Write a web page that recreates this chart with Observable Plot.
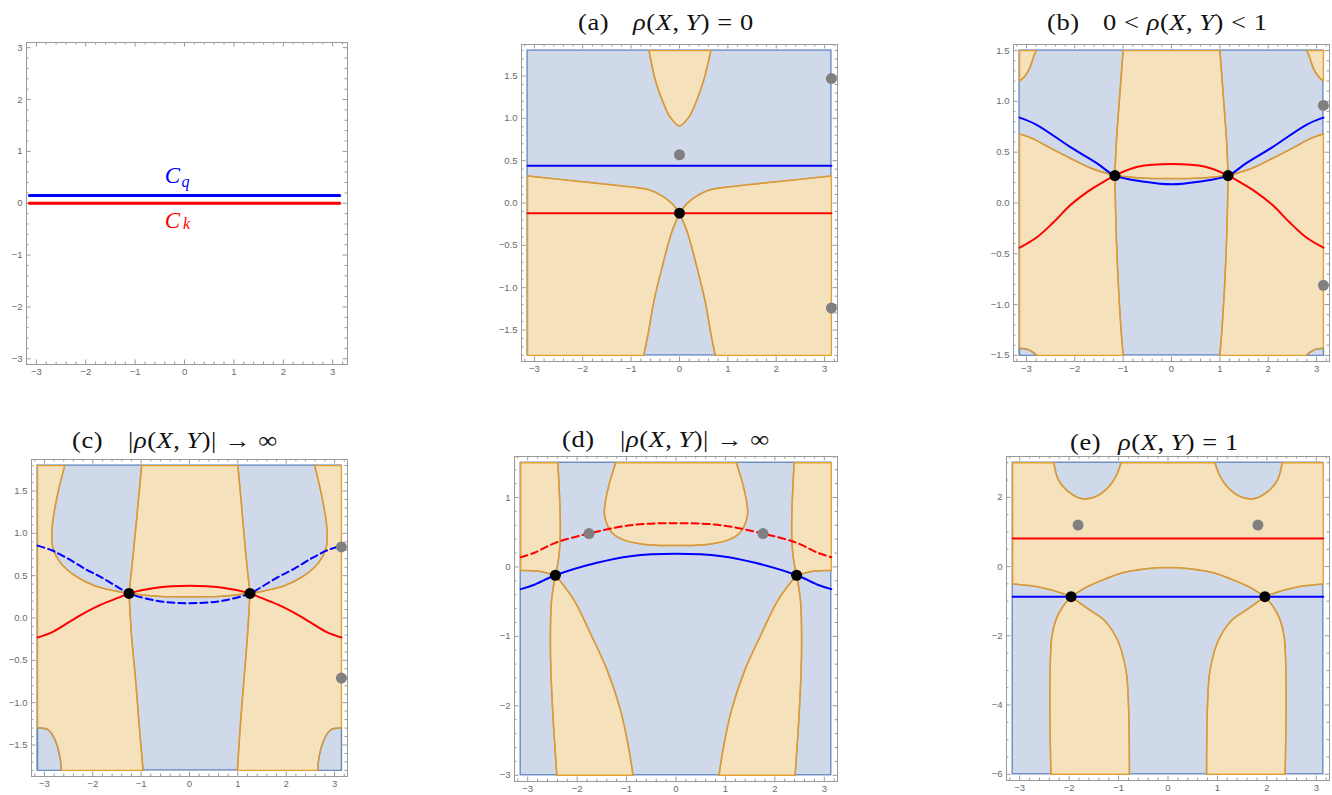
<!DOCTYPE html>
<html><head><meta charset="utf-8">
<script src="https://cdn.jsdelivr.net/npm/d3@7"></script>
<script src="https://cdn.jsdelivr.net/npm/@observablehq/plot@0.6"></script>
<style>
body{margin:0;background:#fff;overflow:hidden;}
#root{position:relative;width:1332px;height:795px;overflow:hidden;}
.t{position:absolute;font-family:"Liberation Serif",serif;font-size:23px;line-height:23px;letter-spacing:0.5px;white-space:nowrap;color:#111;transform:scaleX(1.15);transform-origin:0 0;}
.t i{font-style:italic;}
</style></head>
<body><div id="root">
<div class="t" style="left:578px;top:11px">(a)</div>
<div class="t" style="left:633px;top:11px"><i>ρ</i>(<i>X</i>,&thinsp;<i>Y</i>) = 0</div>
<div class="t" style="left:1047px;top:11px">(b)</div>
<div class="t" style="left:1103px;top:11px">0 &lt; <i>ρ</i>(<i>X</i>,&thinsp;<i>Y</i>) &lt; 1</div>
<div class="t" style="left:72px;top:429px">(c)</div>
<div class="t" style="left:128px;top:429px">|<i>ρ</i>(<i>X</i>,&thinsp;<i>Y</i>)| → ∞</div>
<div class="t" style="left:562px;top:428px">(d)</div>
<div class="t" style="left:620px;top:428px">|<i>ρ</i>(<i>X</i>,&thinsp;<i>Y</i>)| → ∞</div>
<div class="t" style="left:1070px;top:431px">(e)</div>
<div class="t" style="left:1118px;top:431px"><i>ρ</i>(<i>X</i>,&thinsp;<i>Y</i>) = 1</div>
</div>
<script>
const PI = Math.PI;
const rev = a => a.slice().reverse();
const poly = (...segs) => segs.flat();

// ---------- tick values / labels ----------
const xTicks = [-3,-2,-1,0,1,2,3];
const xTickLabels = ["−3","−2","−1","0","1","2","3"];
const y0Ticks = [-3,-2,-1,0,1,2,3];
const y0TickLabels = ["−3","−2","−1","0","1","2","3"];
const yHalfTicks = [-1.5,-1,-0.5,0,0.5,1,1.5];
const yHalfTickLabels = ["−1.5","−1.0","−0.5","0.0","0.5","1.0","1.5"];
const ydTicks = [-3,-2,-1,0,1];
const ydTickLabels = ["−3","−2","−1","0","1"];
const yeTicks = [-6,-4,-2,0,2];
const yeTickLabels = ["−6","−4","−2","0","2"];

// ---------- panel 0 ----------
const p0Blue = [[-PI,0.15],[PI,0.15]];
const p0Red = [[-PI,0],[PI,0]];
const p0LabelQ = [{x:0,y:0.53}];
const p0LabelK = [{x:0,y:-0.33}];

// ---------- panel (a) ----------
const aCup = [[-0.63,1.8],[-0.5,1.45],[-0.36,1.22],[-0.2,1.02],[0,0.91],[0.2,1.02],[0.36,1.22],[0.5,1.45],[0.65,1.8]];
const aUL = [[-PI,0.32],[-2,0.25],[-1.0,0.19],[-0.6,0.15],[-0.35,0.08],[-0.15,-0.01],[0,-0.12]];
const aUR = [[0,-0.12],[0.15,-0.01],[0.35,0.08],[0.6,0.15],[1.0,0.19],[2,0.25],[PI,0.32]];
const aLL = [[0,-0.12],[-0.17,-0.36],[-0.36,-0.76],[-0.53,-1.16],[-0.65,-1.55],[-0.74,-1.8]];
const aLR = [[0,-0.12],[0.17,-0.36],[0.36,-0.76],[0.53,-1.16],[0.65,-1.55],[0.74,-1.8]];
const aBlue = [[-PI,0.44],[PI,0.44]];
const aRed = [[-PI,-0.12],[PI,-0.12]];
const aBlack = [[0,-0.12]];
const aGray = [[0,0.57],[PI,1.47],[PI,-1.24]];

// ---------- panel (b) ----------
const bBlue = [[-PI,0.84],[-2.79,0.77],[-2.09,0.55],[-1.54,0.39],[-1.17,0.27],[-0.56,0.21],[0,0.185],[0.56,0.21],[1.17,0.27],[1.54,0.39],[2.09,0.55],[2.79,0.77],[PI,0.84]];
const bRed = [[-PI,-0.44],[-2.79,-0.34],[-2.44,-0.19],[-2.09,-0.02],[-1.74,0.11],[-1.4,0.21],[-1.17,0.27],[-0.7,0.356],[0,0.383],[0.7,0.356],[1.17,0.27],[1.4,0.21],[1.74,0.11],[2.09,-0.02],[2.44,-0.19],[2.79,-0.34],[PI,-0.44]];
const bGL = [[-PI,0.68],[-2.9,0.64],[-2.5,0.54],[-2.09,0.44],[-1.7,0.35],[-1.4,0.3],[-1.17,0.27]];
const bGM = [[-1.17,0.27],[-0.6,0.245],[0,0.24],[0.6,0.245],[1.17,0.27]];
const bGR = [[1.17,0.27],[1.4,0.3],[1.7,0.35],[2.09,0.44],[2.5,0.54],[2.9,0.64],[PI,0.68]];
const bVLt = [[-1.0,1.5],[-1.08,1.0],[-1.14,0.6],[-1.17,0.27]];
const bVLb = [[-1.17,0.27],[-1.15,-0.2],[-1.11,-0.7],[-1.05,-1.2],[-1.0,-1.5]];
const bVRt = [[1.0,1.5],[1.08,1.0],[1.14,0.6],[1.17,0.27]];
const bVRb = [[1.17,0.27],[1.15,-0.2],[1.11,-0.7],[1.05,-1.2],[1.0,-1.5]];
const bCTL = [[-PI,1.2],[-3.03,1.25],[-2.93,1.33],[-2.86,1.43],[-2.8,1.5]];
const bCTR = [[PI,1.2],[3.03,1.25],[2.93,1.33],[2.86,1.43],[2.8,1.5]];
const bCBL = [[-PI,-1.43],[-2.98,-1.44],[-2.86,-1.47],[-2.79,-1.5]];
const bCBR = [[PI,-1.43],[2.98,-1.44],[2.86,-1.47],[2.79,-1.5]];
const bBlack = [[-1.17,0.27],[1.17,0.27]];
const bGray = [[PI,0.96],[PI,-0.81]];

// ---------- panel (c) ----------
const cVLt = [[-0.99,1.8],[-1.06,1.37],[-1.16,0.78],[-1.25,0.29]];
const cVLb = [[-1.25,0.29],[-1.2,-0.2],[-1.12,-0.7],[-1.05,-1.2],[-0.96,-1.8]];
const cVRt = [[1.0,1.8],[1.07,1.37],[1.16,0.78],[1.25,0.29]];
const cVRb = [[1.25,0.29],[1.2,-0.2],[1.13,-0.7],[1.06,-1.2],[0.99,-1.8]];
const cOL = [[-2.58,1.8],[-2.72,1.48],[-2.82,1.17],[-2.85,0.97],[-2.82,0.82],[-2.68,0.66],[-2.37,0.5],[-1.96,0.38],[-1.54,0.32],[-1.25,0.29]];
const cOR = [[2.59,1.8],[2.72,1.48],[2.82,1.17],[2.85,0.97],[2.82,0.82],[2.68,0.66],[2.37,0.5],[1.96,0.38],[1.54,0.32],[1.25,0.29]];
const cGM = [[-1.25,0.29],[-0.6,0.255],[0,0.25],[0.6,0.255],[1.25,0.29]];
const cCBL = [[-PI,-1.3],[-2.92,-1.32],[-2.78,-1.44],[-2.68,-1.64],[-2.65,-1.8]];
const cCBR = [[PI,-1.3],[2.92,-1.32],[2.78,-1.44],[2.68,-1.64],[2.65,-1.8]];
const cRed = [[-PI,-0.23],[-2.85,-0.17],[-2.51,-0.055],[-2.16,0.063],[-1.82,0.16],[-1.47,0.24],[-1.25,0.29],[-0.65,0.36],[0,0.38],[0.65,0.36],[1.25,0.29],[1.47,0.24],[1.82,0.16],[2.16,0.063],[2.51,-0.055],[2.85,-0.17],[PI,-0.23]];
const cBlue = [[-PI,0.855],[-2.85,0.8],[-2.51,0.7],[-2.16,0.58],[-1.82,0.48],[-1.47,0.36],[-1.25,0.29],[-0.65,0.2],[0,0.175],[0.65,0.2],[1.25,0.29],[1.47,0.36],[1.82,0.48],[2.16,0.58],[2.51,0.7],[2.85,0.8],[PI,0.855]];
const cBlack = [[-1.25,0.29],[1.25,0.29]];
const cGray = [[PI,0.84],[PI,-0.71]];

// ---------- panel (d) ----------
const dVLt = [[-2.39,1.5],[-2.35,0.9],[-2.34,0.5],[-2.37,0.15],[-2.44,-0.12]];
const dVLb = [[-2.44,-0.12],[-2.52,-0.5],[-2.54,-1.2],[-2.5,-2.0],[-2.41,-3.0]];
const dCL = [[-2.44,-0.12],[-2.07,-0.47],[-1.73,-0.96],[-1.39,-1.49],[-1.12,-2.07],[-0.96,-2.6],[-0.87,-3.0]];
const dHL = [[-PI,-0.05],[-2.8,-0.06],[-2.44,-0.12]];
const dVRt = [[2.39,1.5],[2.35,0.9],[2.34,0.5],[2.37,0.15],[2.44,-0.12]];
const dVRb = [[2.44,-0.12],[2.52,-0.5],[2.54,-1.2],[2.5,-2.0],[2.41,-3.0]];
const dCR = [[2.44,-0.12],[2.07,-0.47],[1.73,-0.96],[1.39,-1.49],[1.12,-2.07],[0.96,-2.6],[0.87,-3.0]];
const dHR = [[PI,-0.05],[2.8,-0.06],[2.44,-0.12]];
const dBlob = [[-1.22,1.5],[-1.36,1.17],[-1.43,0.93],[-1.45,0.78],[-1.41,0.64],[-1.29,0.49],[-1.06,0.39],[-0.58,0.32],[0,0.31],[0.58,0.32],[1.06,0.39],[1.29,0.49],[1.41,0.64],[1.45,0.78],[1.43,0.93],[1.36,1.17],[1.22,1.5]];
const dRed = [[-PI,0.14],[-2.88,0.2],[-2.43,0.35],[-1.76,0.48],[-0.92,0.6],[0,0.63],[0.92,0.6],[1.76,0.48],[2.43,0.35],[2.88,0.2],[PI,0.14]];
const dBlue = [[-PI,-0.32],[-2.88,-0.26],[-2.44,-0.12],[-1.6,0.06],[-0.92,0.155],[0,0.19],[0.92,0.155],[1.6,0.06],[2.44,-0.12],[2.88,-0.26],[PI,-0.32]];
const dBlack = [[-2.44,-0.12],[2.44,-0.12]];
const dGray = [[-1.76,0.48],[1.76,0.48]];

// ---------- panel (e) ----------
const eBlobL = [[-2.31,3.0],[-2.22,2.51],[-2.03,2.18],[-1.73,1.96],[-1.42,2.05],[-1.16,2.37],[-1.02,2.71],[-0.95,3.0]];
const eBlobR = [[0.95,3.0],[1.02,2.71],[1.16,2.37],[1.42,2.05],[1.73,1.96],[2.03,2.18],[2.22,2.51],[2.31,3.0]];
const eHL = [[-PI,-0.5],[-2.64,-0.58],[-2.3,-0.7],[-1.96,-0.87]];
const eHM = [[-1.96,-0.87],[-1.63,-0.58],[-1.29,-0.37],[-0.95,-0.19],[-0.48,-0.07],[0,-0.03],[0.48,-0.07],[0.95,-0.19],[1.29,-0.37],[1.63,-0.58],[1.96,-0.87]];
const eHR = [[1.96,-0.87],[2.3,-0.7],[2.64,-0.58],[PI,-0.5]];
const eCLo = [[-1.96,-0.87],[-2.13,-1.16],[-2.27,-1.55],[-2.35,-2.03],[-2.38,-2.71],[-2.39,-3.97],[-2.37,-6.0]];
const eCLi = [[-1.96,-0.87],[-1.63,-1.21],[-1.29,-1.55],[-1.02,-2.13],[-0.85,-3.0],[-0.8,-3.97],[-0.78,-6.0]];
const eCRo = [[1.96,-0.87],[2.13,-1.16],[2.27,-1.55],[2.35,-2.03],[2.38,-2.71],[2.39,-3.97],[2.37,-6.0]];
const eCRi = [[1.96,-0.87],[1.63,-1.21],[1.29,-1.55],[1.02,-2.13],[0.85,-3.0],[0.8,-3.97],[0.78,-6.0]];
const eRed = [[-PI,0.81],[PI,0.81]];
const eBlue = [[-PI,-0.87],[PI,-0.87]];
const eBlack = [[-1.96,-0.87],[1.96,-0.87]];
const eGray = [[-1.82,1.2],[1.82,1.2]];

// ---------- styles ----------
const BLUE_FILL = "#cfd9e9", BLUE_EDGE = "#6b8cc2";
const OR_FILL = "#f6e1bd", OR_EDGE = "#e3a132", CONTOUR = "#d69a3c";
const TICK = "#9a9a9a", LABEL = "#6a6a6a";
const XPAD = [-PI*1.04, PI*1.04];
const padY = r => { const p = (r[1]-r[0])*0.02; return [r[0]-p, r[1]+p]; };

function minorTicks(maj, step, lo, hi) {
  const out = [];
  const n0 = Math.ceil(lo/step - 1e-9), n1 = Math.floor(hi/step + 1e-9);
  for (let i = n0; i <= n1; i++) {
    const v = +(i*step).toFixed(6);
    if (!maj.some(m => Math.abs(m - v) < 1e-9)) out.push(v);
  }
  return out;
}
const X = d => d[0], Y = d => d[1];

function drawPanel(p) {
  const [L, R, T, B] = p.box;
  const W = R - L, H = B - T;
  const mL = 34, mR = 3, mT = 6, mB = 22;
  const xd = p.xd || XPAD;
  const yd = p.yd || padY(p.yr);
  const xMin = minorTicks(p.xMaj, 0.2, xd[0], xd[1]);
  const yMin = minorTicks(p.yMaj, p.yStep, yd[0], yd[1]);
  const marks = [];
  if (p.yr) {
    marks.push(Plot.rect([{x1:-PI, x2:PI, y1:p.yr[0], y2:p.yr[1]}],
      {x1:"x1", x2:"x2", y1:"y1", y2:"y2", fill:BLUE_FILL, stroke:BLUE_EDGE, strokeWidth:1.4}));
  }
  (p.orange || []).forEach(pts => marks.push(Plot.line(pts,
    {x:X, y:Y, curve:"catmull-rom", fill:OR_FILL, stroke:OR_EDGE, strokeWidth:1.4})));
  (p.blue || []).forEach(pts => marks.push(Plot.line(pts,
    {x:X, y:Y, curve:"catmull-rom", fill:BLUE_FILL, stroke:BLUE_EDGE, strokeWidth:1.4})));
  (p.contours || []).forEach(pts => marks.push(Plot.line(pts,
    {x:X, y:Y, curve:"catmull-rom", stroke:CONTOUR, strokeWidth:1.5})));
  marks.push(Plot.frame({stroke:TICK, strokeWidth:1}));
  const maj = 4.5, mnr = 2.5;
  marks.push(
    Plot.tickX(p.xMaj, {x:d=>d, stroke:TICK, insetTop:H-maj}),
    Plot.tickX(p.xMaj, {x:d=>d, stroke:TICK, insetBottom:H-maj}),
    Plot.tickX(xMin, {x:d=>d, stroke:TICK, insetTop:H-mnr}),
    Plot.tickX(xMin, {x:d=>d, stroke:TICK, insetBottom:H-mnr}),
    Plot.tickY(p.yMaj, {y:d=>d, stroke:TICK, insetRight:W-maj}),
    Plot.tickY(p.yMaj, {y:d=>d, stroke:TICK, insetLeft:W-maj}),
    Plot.tickY(yMin, {y:d=>d, stroke:TICK, insetRight:W-mnr}),
    Plot.tickY(yMin, {y:d=>d, stroke:TICK, insetLeft:W-mnr}),
    Plot.text(p.xMaj, {x:d=>d, frameAnchor:"bottom", dy:10, text:(d,i)=>p.xLab[i], fill:LABEL}),
    Plot.text(p.yMaj, {y:d=>d, frameAnchor:"left", dx:-4, textAnchor:"end", text:(d,i)=>p.yLab[i], fill:LABEL})
  );
  (p.curves || []).forEach(c => marks.push(Plot.line(c.pts,
    {x:X, y:Y, curve:"catmull-rom", stroke:c.color, strokeWidth:c.w || 2, strokeDasharray:c.dash})));
  if (p.gray) marks.push(Plot.dot(p.gray, {x:X, y:Y, r:5.5, fill:"#808080"}));
  if (p.black) marks.push(Plot.dot(p.black, {x:X, y:Y, r:5.5, fill:"#000"}));
  (p.extra || []).forEach(m => marks.push(m));
  const svg = Plot.plot({
    width: W + mL + mR, height: H + mT + mB,
    marginLeft: mL, marginRight: mR, marginTop: mT, marginBottom: mB,
    x: {domain: xd, axis: null},
    y: {domain: yd, axis: null},
    style: {fontFamily: "'Liberation Sans', Arial, sans-serif", fontSize: "9.5px", background: "transparent", overflow: "visible"},
    marks
  });
  svg.style.position = "absolute";
  svg.style.left = (L - mL) + "px";
  svg.style.top = (T - mT) + "px";
  document.getElementById("root").appendChild(svg);
}

const serif = "'Liberation Serif', serif";
// panel 0
drawPanel({
  box: [26, 347, 42, 364], xd: [-3.2, 3.3], yd: [-3.11, 3.1],
  xMaj: xTicks, xLab: xTickLabels, yMaj: y0Ticks, yLab: y0TickLabels, yStep: 0.2,
  curves: [{pts: p0Blue, color: "#0000ff", w: 3}, {pts: p0Red, color: "#ff0000", w: 3}],
  extra: [
    Plot.text(p0LabelQ, {x:"x", y:"y", text:()=>"C", dx:-12, fontFamily:serif, fontStyle:"italic", fontSize:23, fill:"#0000ff"}),
    Plot.text(p0LabelQ, {x:"x", y:"y", text:()=>"q", dx:1, dy:6, fontFamily:serif, fontStyle:"italic", fontSize:16, fill:"#0000ff"}),
    Plot.text(p0LabelK, {x:"x", y:"y", text:()=>"C", dx:-12, fontFamily:serif, fontStyle:"italic", fontSize:23, fill:"#ff0000"}),
    Plot.text(p0LabelK, {x:"x", y:"y", text:()=>"k", dx:2, dy:4, fontFamily:serif, fontStyle:"italic", fontSize:16, fill:"#ff0000"})
  ]
});
// panel a
drawPanel({
  box: [521, 837, 44, 361], yr: [-1.8, 1.8],
  xMaj: xTicks, xLab: xTickLabels, yMaj: yHalfTicks, yLab: yHalfTickLabels, yStep: 0.1,
  orange: [
    poly([[-PI,-1.8],[-PI,0.32]], aUL, aUR, [[PI,0.32],[PI,-1.8]], [[PI,-1.8],[0.74,-1.8]], rev(aLR), aLL, [[-0.74,-1.8],[-PI,-1.8]]),
    poly(aCup, [[0.65,1.8],[-0.63,1.8]])
  ],
  contours: [aCup, aUL, aUR, aLL, aLR],
  curves: [{pts: aBlue, color: "#0000ff"}, {pts: aRed, color: "#ff0000"}],
  gray: aGray, black: aBlack
});
// panel b
drawPanel({
  box: [1013, 1329, 44, 361], yr: [-1.5, 1.5],
  xMaj: xTicks, xLab: xTickLabels, yMaj: yHalfTicks, yLab: yHalfTickLabels, yStep: 0.1,
  orange: [
    poly(bVLt, bGM, rev(bVRt), [[1.0,1.5],[-1.0,1.5]]),
    poly([[-PI,-1.5],[-PI,0.68]], bGL, bVLb, [[-1.0,-1.5],[-PI,-1.5]]),
    poly([[PI,-1.5],[PI,0.68]], rev(bGR), bVRb, [[1.0,-1.5],[PI,-1.5]]),
    poly([[-PI,1.5],[-PI,1.2]], bCTL, [[-2.8,1.5],[-PI,1.5]]),
    poly([[PI,1.5],[PI,1.2]], bCTR, [[2.8,1.5],[PI,1.5]])
  ],
  blue: [
    poly([[-PI,-1.5],[-PI,-1.43]], bCBL, [[-2.79,-1.5],[-PI,-1.5]]),
    poly([[PI,-1.5],[PI,-1.43]], bCBR, [[2.79,-1.5],[PI,-1.5]])
  ],
  contours: [bGL, bGM, bGR, bVLt, bVLb, bVRt, bVRb, bCTL, bCTR, bCBL, bCBR],
  curves: [{pts: bRed, color: "#ff0000"}, {pts: bBlue, color: "#0000ff"}],
  gray: bGray, black: bBlack
});
// panel c
drawPanel({
  box: [31, 347, 459, 776], yr: [-1.8, 1.8],
  xMaj: xTicks, xLab: xTickLabels, yMaj: yHalfTicks, yLab: yHalfTickLabels, yStep: 0.1,
  orange: [
    poly([[-PI,-1.8],[-PI,1.8]], [[-PI,1.8],[-2.58,1.8]], cOL, cVLb, [[-0.96,-1.8],[-PI,-1.8]]),
    poly([[1.0,1.8],[-0.99,1.8]], cVLt, cGM, rev(cVRt)),
    poly([[PI,-1.8],[PI,1.8]], [[PI,1.8],[2.59,1.8]], cOR, cVRb, [[0.99,-1.8],[PI,-1.8]])
  ],
  blue: [
    poly([[-PI,-1.8],[-PI,-1.3]], cCBL, [[-2.65,-1.8],[-PI,-1.8]]),
    poly([[PI,-1.8],[PI,-1.3]], cCBR, [[2.65,-1.8],[PI,-1.8]])
  ],
  contours: [cOL, cOR, cVLt, cVLb, cVRt, cVRb, cGM, cCBL, cCBR],
  curves: [{pts: cRed, color: "#ff0000"}, {pts: cBlue, color: "#0000ff", dash: "7,4"}],
  gray: cGray, black: cBlack
});
// panel d
drawPanel({
  box: [514, 837, 456, 781], yr: [-3, 1.5],
  xMaj: xTicks, xLab: xTickLabels, yMaj: ydTicks, yLab: ydTickLabels, yStep: 0.2,
  orange: [
    poly([[-PI,-0.05],[-PI,1.5]], [[-PI,1.5],[-2.39,1.5]], dVLt, rev(dHL)),
    poly([[PI,-0.05],[PI,1.5]], [[PI,1.5],[2.39,1.5]], dVRt, rev(dHR)),
    poly(dBlob, [[1.22,1.5],[-1.22,1.5]]),
    poly(dVLb, [[-2.41,-3],[-0.87,-3]], rev(dCL)),
    poly(dVRb, [[2.41,-3],[0.87,-3]], rev(dCR))
  ],
  contours: [dVLt, dVLb, dCL, dHL, dVRt, dVRb, dCR, dHR, dBlob],
  curves: [{pts: dRed, color: "#ff0000", dash: "7,4"}, {pts: dBlue, color: "#0000ff"}],
  gray: dGray, black: dBlack
});
// panel e
drawPanel({
  box: [1006, 1329, 456, 780], yr: [-6, 3],
  xMaj: xTicks, xLab: xTickLabels, yMaj: yeTicks, yLab: yeTickLabels, yStep: 0.5,
  orange: [
    poly([[-PI,-0.5],[-PI,3]], [[-PI,3],[-2.31,3]], eBlobL, [[-0.95,3],[0.95,3]], eBlobR, [[2.31,3],[PI,3]], [[PI,3],[PI,-0.5]], rev(eHR), rev(eHM), rev(eHL)),
    poly(eCLo, [[-2.37,-6],[-0.78,-6]], rev(eCLi)),
    poly(eCRo, [[2.37,-6],[0.78,-6]], rev(eCRi))
  ],
  contours: [eBlobL, eBlobR, eHL, eHM, eHR, eCLo, eCLi, eCRo, eCRi],
  curves: [{pts: eRed, color: "#ff0000"}, {pts: eBlue, color: "#0000ff"}],
  gray: eGray, black: eBlack
});
</script>
</body></html>
